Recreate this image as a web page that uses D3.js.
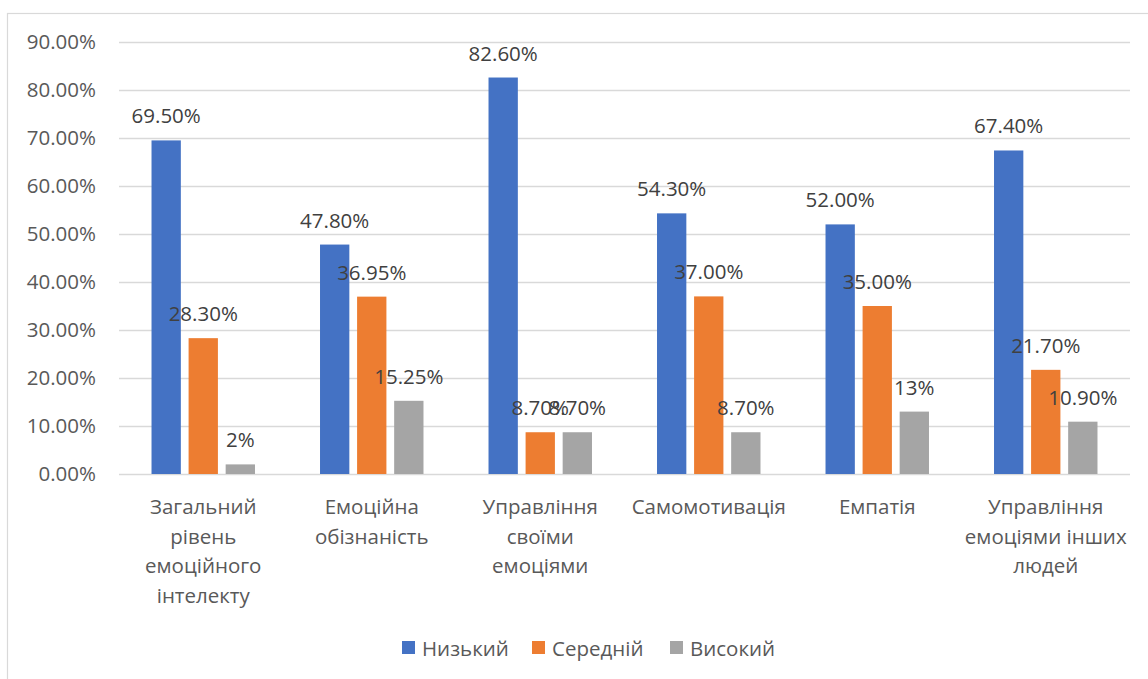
<!DOCTYPE html>
<html>
<head>
<meta charset="utf-8">
<script src="https://cdn.jsdelivr.net/npm/d3@7"></script>
<style>
  html, body { margin: 0; padding: 0; background: #ffffff; }
  svg { display: block; font-family: "Open Sans", "Noto Sans", sans-serif; }
</style>
</head>
<body>
<svg id="chart" width="1148" height="679"></svg>
<script>
// Categories (line breaks show how each axis label wraps)
const categories = [
  "Загальний\nрівень\nемоційного\nінтелекту",
  "Емоційна\nобізнаність",
  "Управління\nсвоїми\nемоціями",
  "Самомотивація",
  "Емпатія",
  "Управління\nемоціями інших\nлюдей"
];

const seriesNames = ["Низький", "Середній", "Високий"];

// Percent values per series
const lowValues    = [69.5, 47.8, 82.6, 54.3, 52.0, 67.4];
const mediumValues = [28.3, 36.95, 8.7, 37.0, 35.0, 21.7];
const highValues   = [2, 15.25, 8.7, 8.7, 13, 10.9];

// Decimal places shown in each data label
const lowDecimals    = [2, 2, 2, 2, 2, 2];
const mediumDecimals = [2, 2, 2, 2, 2, 2];
const highDecimals   = [0, 2, 2, 2, 0, 2];

const yTicks = [0, 10, 20, 30, 40, 50, 60, 70, 80, 90];

const colors = ["#4472C4", "#ED7D31", "#A5A5A5"];

const series = [
  { name: seriesNames[0], values: lowValues, decimals: lowDecimals },
  { name: seriesNames[1], values: mediumValues, decimals: mediumDecimals },
  { name: seriesNames[2], values: highValues, decimals: highDecimals }
];

const svg = d3.select("#chart");
const fontSize = 20.5;

// Chart area frame
svg.append("rect")
  .attr("x", 7.5).attr("y", 13.5)
  .attr("width", 1160).attr("height", 700)
  .attr("fill", "none").attr("stroke", "#d9d9d9").attr("stroke-width", 1.2);

const plot = { left: 119, right: 1130, top: 42, bottom: 474 };

const x = d3.scaleBand()
  .domain(d3.range(categories.length))
  .range([plot.left, plot.right])
  .paddingInner(0).paddingOuter(0);

const y = d3.scaleLinear().domain([0, 90]).range([plot.bottom, plot.top]);

// Bars within a group: width and spacing relative to the band
const barW = x.bandwidth() * 0.174;
const barGap = x.bandwidth() * 0.046;
const groupW = barW * 3 + barGap * 2;
const barX = (ci, si) => x(ci) + x.bandwidth() / 2 - groupW / 2 + si * (barW + barGap);

// Gridlines
svg.append("g")
  .selectAll("line")
  .data(yTicks)
  .join("line")
  .attr("x1", plot.left).attr("x2", plot.right)
  .attr("y1", d => Math.round(y(d)) + 0.5).attr("y2", d => Math.round(y(d)) + 0.5)
  .attr("stroke", "#d9d9d9").attr("stroke-width", 1.5);

// Y axis labels
const yAxis = d3.axisLeft(y)
  .tickValues(yTicks)
  .tickFormat(d => d.toFixed(2) + "%")
  .tickSize(0).tickPadding(0);
const yg = svg.append("g").attr("transform", `translate(96,0)`).call(yAxis);
yg.select(".domain").remove();
yg.selectAll("text")
  .attr("fill", "#595959")
  .style("font-size", fontSize + "px")
  .style("font-family", "'Open Sans', 'Noto Sans', sans-serif");

// Bars
series.forEach((s, si) => {
  svg.append("g")
    .selectAll("rect")
    .data(s.values)
    .join("rect")
    .attr("x", (d, i) => barX(i, si))
    .attr("y", d => y(d))
    .attr("width", barW)
    .attr("height", d => y(0) - y(d))
    .attr("fill", colors[si]);
});

// Data labels
series.forEach((s, si) => {
  svg.append("g")
    .selectAll("text")
    .data(s.values)
    .join("text")
    .attr("x", (d, i) => barX(i, si) + barW / 2)
    .attr("y", d => y(d) - 25)
    .attr("text-anchor", "middle")
    .attr("dominant-baseline", "central")
    .attr("fill", "#404040")
    .style("font-size", fontSize + "px")
    .text((d, i) => d.toFixed(s.decimals[i]) + "%");
});

// Category labels
const xg = svg.append("g");
categories.forEach((c, i) => {
  const t = xg.append("text")
    .attr("x", x(i) + x.bandwidth() / 2)
    .attr("y", 506)
    .attr("text-anchor", "middle")
    .attr("dominant-baseline", "central")
    .attr("fill", "#595959")
    .style("font-size", fontSize + "px");
  c.split("\n").forEach((line, li) => {
    t.append("tspan")
      .attr("x", x(i) + x.bandwidth() / 2)
      .attr("y", 506 + li * 29.5)
      .text(line);
  });
});

// Legend
const legendX = [402, 532, 670];
const legend = svg.append("g");
seriesNames.forEach((name, i) => {
  legend.append("rect")
    .attr("x", legendX[i]).attr("y", 641)
    .attr("width", 13).attr("height", 13)
    .attr("fill", colors[i]);
  legend.append("text")
    .attr("x", legendX[i] + 20).attr("y", 647.5)
    .attr("dominant-baseline", "central")
    .attr("fill", "#595959")
    .style("font-size", fontSize + "px")
    .text(name);
});
</script>
</body>
</html>
